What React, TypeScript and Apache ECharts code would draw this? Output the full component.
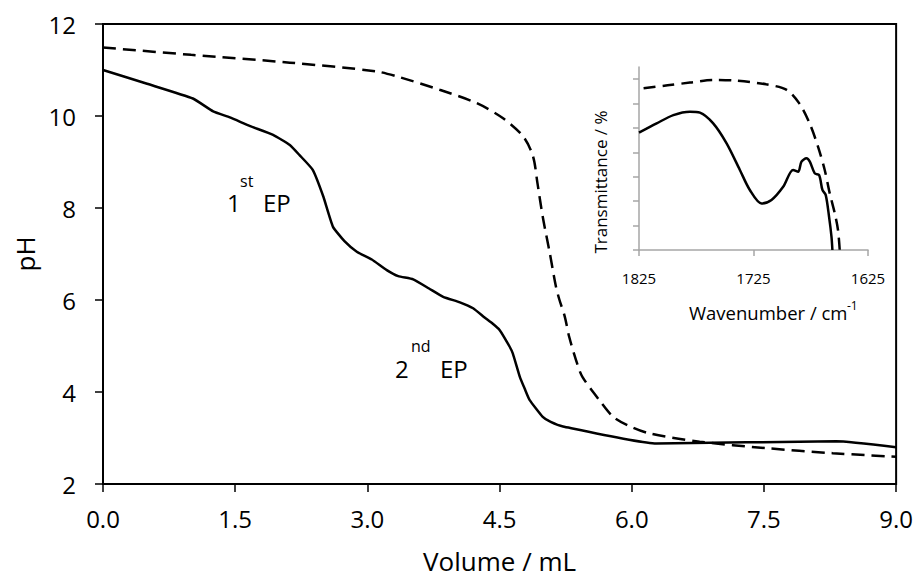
import React, { useEffect, useRef } from "react";
import * as echarts from "echarts";

// Main titration curves (Volume / mL vs pH)
const solidVolume = [0, 0.5, 1.02, 1.25, 1.44, 1.67, 1.93, 2.12, 2.23, 2.38, 2.5, 2.61, 2.74, 2.88, 3.05, 3.22, 3.35, 3.52, 3.7, 3.86, 4.05, 4.2, 4.33, 4.42, 4.5, 4.61, 4.65, 4.73, 4.79, 4.84, 4.99, 5.08, 5.22, 6.28, 8.32, 9.0];
const solidPH = [11.0, 10.7, 10.38, 10.1, 9.97, 9.78, 9.59, 9.37, 9.15, 8.83, 8.25, 7.59, 7.28, 7.05, 6.88, 6.65, 6.52, 6.45, 6.25, 6.07, 5.95, 5.82, 5.62, 5.49, 5.35, 5.0, 4.84, 4.33, 4.05, 3.83, 3.46, 3.35, 3.25, 2.88, 2.93, 2.8];

const dashedVolume = [0, 1.0, 2.12, 3.1, 3.37, 3.82, 4.24, 4.54, 4.77, 4.88, 4.93, 4.99, 5.07, 5.14, 5.18, 5.24, 5.29, 5.38, 5.44, 5.63, 5.79, 5.95, 6.2, 6.77, 7.52, 8.28, 9.0];
const dashedPH = [11.49, 11.33, 11.16, 10.97, 10.84, 10.57, 10.28, 9.95, 9.55, 9.12, 8.54, 7.81, 7.02, 6.29, 6.0, 5.64, 5.2, 4.62, 4.33, 3.83, 3.46, 3.28, 3.1, 2.92, 2.78, 2.67, 2.59];

// Inset IR spectra (wavenumber / cm-1 vs transmittance, arbitrary units)
const insetSolidWn = [1825, 1809.6, 1795, 1780.5, 1771.8, 1760.2, 1748.5, 1736.9, 1728.2, 1718, 1709.3, 1699.1, 1690.4, 1686, 1683.1, 1678.7, 1675.8, 1671.5, 1667.7, 1664.8, 1661.9, 1659, 1656.9, 1656.1];
const insetSolidT = [4.81, 5.19, 5.53, 5.67, 5.63, 5.19, 4.37, 3.28, 2.46, 1.91, 2.05, 2.59, 3.28, 3.21, 3.62, 3.76, 3.62, 3.14, 3.07, 2.46, 2.25, 1.36, 0.55, 0];
const insetDashedWn = [1821, 1800, 1780.5, 1760, 1740, 1714, 1696, 1685, 1676, 1668.6, 1662.8, 1658.4, 1654, 1651.2, 1649.7];
const insetDashedT = [6.63, 6.75, 6.86, 6.97, 6.94, 6.79, 6.56, 6.01, 5.19, 4.23, 3.28, 2.32, 1.5, 0.82, 0];

const mainXTicks = [0, 1.5, 3, 4.5, 6, 7.5, 9];
const insetXTicks = [1625, 1725, 1825];
const insetYTicks = [0, 1, 2, 3, 4, 5, 6, 7];

const FONT = '"Open Sans", "Liberation Sans", sans-serif';
const zip = (xs: number[], ys: number[]) => xs.map((x, i) => [x, ys[i]]);

export default function App() {
  const ref = useRef<HTMLDivElement>(null);
  useEffect(() => {
    if (!ref.current) return;
    const chart = echarts.init(ref.current, undefined, { renderer: "svg" });
    const txt = (text: string, x: number, y: number, size: number, align = "left", rotation = 0) => ({
      type: "text",
      x,
      y,
      rotation,
      silent: true,
      style: {
        text,
        fill: "#000",
        fontSize: size,
        fontFamily: FONT,
        textAlign: align,
        align,
        textVerticalAlign: "middle",
        verticalAlign: "middle",
      },
    });
    chart.setOption({
      animation: false,
      backgroundColor: "#fff",
      textStyle: { fontFamily: FONT, color: "#000" },
      grid: [
        { left: 103, top: 24, width: 794, height: 460, show: true, borderColor: "#000", borderWidth: 2, backgroundColor: "transparent" },
        { left: 639, top: 67, width: 229, height: 183 },
      ],
      xAxis: [
        {
          type: "value",
          gridIndex: 0,
          min: 0,
          max: 9,
          interval: 1.5,
          name: "Volume / mL",
          nameLocation: "middle",
          nameGap: 64,
          nameTextStyle: { fontSize: 26, color: "#000", fontFamily: FONT },
          axisLine: { show: true, lineStyle: { color: "#000", width: 2 } },
          axisTick: { show: true, inside: false, length: 8, lineStyle: { color: "#000", width: 1.5 }, customValues: mainXTicks },
          axisLabel: { fontSize: 24, color: "#000", margin: 22, fontFamily: FONT, formatter: (v: number) => v.toFixed(1), customValues: mainXTicks },
          splitLine: { show: false },
        },
        {
          type: "value",
          gridIndex: 1,
          min: 1625,
          max: 1825,
          inverse: true,
          axisLine: { show: true, onZero: false, lineStyle: { color: "#a6a6a6", width: 1.5 } },
          axisTick: { show: true, length: 6, lineStyle: { color: "#a6a6a6", width: 1.5 }, customValues: insetXTicks },
          axisLabel: { fontSize: 15, color: "#000", margin: 20, fontFamily: FONT, formatter: (v: number) => String(v), customValues: insetXTicks },
          splitLine: { show: false },
        },
      ],
      yAxis: [
        {
          type: "value",
          gridIndex: 0,
          min: 2,
          max: 12,
          interval: 2,
          name: "pH",
          nameLocation: "middle",
          nameGap: 65,
          nameTextStyle: { fontSize: 26, color: "#000", fontFamily: FONT },
          axisLine: { show: true, lineStyle: { color: "#000", width: 2 } },
          axisTick: { show: true, length: 8, lineStyle: { color: "#000", width: 1.5 } },
          axisLabel: { fontSize: 24, color: "#000", margin: 27, fontFamily: FONT },
          splitLine: { show: false },
        },
        {
          type: "value",
          gridIndex: 1,
          min: 0,
          max: 7.5,
          axisLine: { show: true, onZero: false, lineStyle: { color: "#a6a6a6", width: 1.5 } },
          axisTick: { show: true, length: 6, lineStyle: { color: "#a6a6a6", width: 1.5 }, customValues: insetYTicks },
          axisLabel: { show: false },
          splitLine: { show: false },
        },
      ],
      series: [
        {
          type: "line",
          xAxisIndex: 0,
          yAxisIndex: 0,
          data: zip(solidVolume, solidPH),
          showSymbol: false,
          symbol: "none",
          smooth: 0.15,
          lineStyle: { color: "#000", width: 2.5 },
        },
        {
          type: "line",
          xAxisIndex: 0,
          yAxisIndex: 0,
          data: zip(dashedVolume, dashedPH),
          showSymbol: false,
          symbol: "none",
          smooth: 0.3,
          lineStyle: { color: "#000", width: 2.5, type: [13, 7] },
        },
        {
          type: "line",
          xAxisIndex: 1,
          yAxisIndex: 1,
          data: zip(insetSolidWn, insetSolidT),
          showSymbol: false,
          symbol: "none",
          smooth: 0.3,
          lineStyle: { color: "#000", width: 2.5 },
        },
        {
          type: "line",
          xAxisIndex: 1,
          yAxisIndex: 1,
          data: zip(insetDashedWn, insetDashedT),
          showSymbol: false,
          symbol: "none",
          smooth: 0.3,
          lineStyle: { color: "#000", width: 2.5, type: [12, 7] },
        },
      ],
      graphic: [
        txt("1", 227, 202, 24),
        txt("st", 240, 181, 16),
        txt("EP", 263, 202, 24),
        txt("2", 395, 368, 24),
        txt("nd", 411, 346, 16),
        txt("EP", 440, 368, 24),
        txt("Wavenumber / cm", 689, 312, 18.5),
        txt("-1", 847, 305, 12),
        txt("Transmittance / %", 600, 182, 17, "center", Math.PI / 2),
      ],
    });
    return () => chart.dispose();
  }, []);
  return <div ref={ref} style={{ position: "fixed", left: 0, top: 0, width: 916, height: 580 }} />;
}
